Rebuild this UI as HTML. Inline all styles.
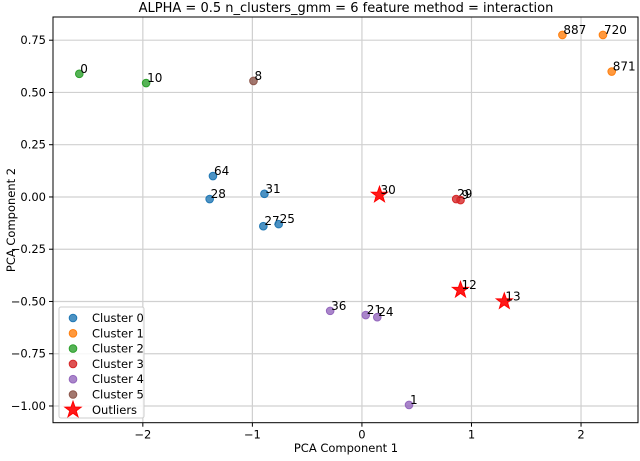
<!DOCTYPE html>
<html><head><meta charset="utf-8"><style>
body{margin:0;background:#fff}
svg text{font-family:"DejaVu Sans","Liberation Sans",sans-serif;fill:#000}
</style></head><body>
<svg id="chart" width="640" height="456" viewBox="0 0 640 456" xmlns="http://www.w3.org/2000/svg">
<text x="346" y="12" font-size="13" text-anchor="middle">ALPHA = 0.5 n_clusters_gmm = 6  feature method = interaction</text>
<g id="grid"></g><g id="marks"></g>
<rect x="53" y="17" width="585" height="405.7" fill="none" stroke="#000" stroke-width="1"/>
<text x="346" y="452" font-size="11.5" text-anchor="middle">PCA Component 1</text>
<text transform="translate(15,220) rotate(-90)" font-size="11.5" text-anchor="middle">PCA Component 2</text>
<g id="legend"></g>
</svg>
<script>
const clusterNames=["Cluster 0","Cluster 1","Cluster 2","Cluster 3","Cluster 4","Cluster 5"];
const colors=["#1f77b4","#ff7f0e","#2ca02c","#d62728","#9467bd","#8c564b"];
const pointLabels=["0","10","8","64","28","31","27","25","887","720","871","29","9","36","21","24","1"];
const pointX=[-2.58,-1.97,-0.99,-1.36,-1.39,-0.89,-0.90,-0.76,1.83,2.20,2.28,0.86,0.90,-0.29,0.035,0.14,0.43];
const pointY=[0.589,0.545,0.555,0.10,-0.01,0.015,-0.14,-0.13,0.775,0.775,0.60,-0.01,-0.015,-0.545,-0.565,-0.575,-0.995];
const pointCluster=[2,2,5,0,0,0,0,0,1,1,1,3,3,4,4,4,4];
const outlierLabels=["30","12","13"];
const outlierX=[0.16,0.90,1.30];
const outlierY=[0.01,-0.445,-0.50];
const xTicks=[-2,-1,0,1,2];
const yTicks=[-1.00,-0.75,-0.50,-0.25,0.00,0.25,0.50,0.75];
const L=53,R=638,T=17,B=422.7,x0=-2.82,x1=2.52,y0=-1.08,y1=0.861;
const sx=v=>L+(v-x0)/(x1-x0)*(R-L);
const sy=v=>B-(v-y0)/(y1-y0)*(B-T);
const NS="http://www.w3.org/2000/svg";
function mk(tag,attrs,parent,text){const e=document.createElementNS(NS,tag);for(const k in attrs)e.setAttribute(k,attrs[k]);if(text!==undefined)e.textContent=text;parent.appendChild(e);return e;}
const grid=document.getElementById('grid'),marks=document.getElementById('marks'),svg=document.getElementById('chart');
xTicks.forEach(t=>{const X=sx(t);
 const g=mk('line',{x1:X,x2:X,y1:T,y2:B,stroke:'#d0d0d0','stroke-width':1.2},grid);
 
 mk('line',{x1:X,x2:X,y1:B,y2:B+4,stroke:'#000'},svg);
 const tx=mk('text',{x:X,y:B+16,'font-size':11.5,'text-anchor':'middle'},svg,t<0?'\u2212'+Math.abs(t):String(t));
 });
yTicks.forEach(t=>{const Y=sy(t);
 const g=mk('line',{x1:L,x2:R,y1:Y,y2:Y,stroke:'#d0d0d0','stroke-width':1.2},grid);
 
 mk('line',{x1:L-4,x2:L,y1:Y,y2:Y,stroke:'#000'},svg);
 const s=t.toFixed(2);
 const tx=mk('text',{x:L-7,y:Y+4,'font-size':11.5,'text-anchor':'end'},svg,t<0?'\u2212'+s.slice(1):s);
 });
function starPts(cx,cy,r){let p=[];for(let i=0;i<10;i++){const a=-Math.PI/2+i*Math.PI/5;const rr=i%2?r*0.4:r;p.push((cx+rr*Math.cos(a)).toFixed(1)+','+(cy+rr*Math.sin(a)).toFixed(1));}return p.join(' ');}
pointX.forEach((v,i)=>{const X=sx(v),Y=sy(pointY[i]);
 const c=mk('circle',{cx:X,cy:Y,r:3.8,fill:colors[pointCluster[i]],'fill-opacity':0.8,stroke:colors[pointCluster[i]]},marks);
 
 const t=mk('text',{x:X+1,y:Y-1,'font-size':12},marks,pointLabels[i]);
 });
outlierX.forEach((v,i)=>{const X=sx(v),Y=sy(outlierY[i]);
 const s=mk('polygon',{points:starPts(X,Y,8.5),fill:'#ff0000','fill-opacity':0.9,stroke:'#ff0000'},marks);
 
 const t=mk('text',{x:X+1,y:Y-1,'font-size':12},marks,outlierLabels[i]);
 });
const lg=document.getElementById('legend');
const box=mk('rect',{x:59,y:307,width:85,height:111,rx:2,fill:'#fff','fill-opacity':0.85,stroke:'#ccc'},lg);

clusterNames.forEach((n,i)=>{const Y=318+i*15.3;
 const c=mk('circle',{cx:73,cy:Y,r:3.8,fill:colors[i],'fill-opacity':0.8,stroke:colors[i]},lg);
 
 const t=mk('text',{x:92,y:Y+4,'font-size':11.5},lg,n);
 });
const Ys=318+6*15.3;
mk('polygon',{points:starPts(73,Ys,8.5),fill:'#ff0000','fill-opacity':0.9,stroke:'#ff0000'},lg);
const to=mk('text',{x:92,y:Ys+4,'font-size':11.5},lg,'Outliers');

</script>
</body></html>
